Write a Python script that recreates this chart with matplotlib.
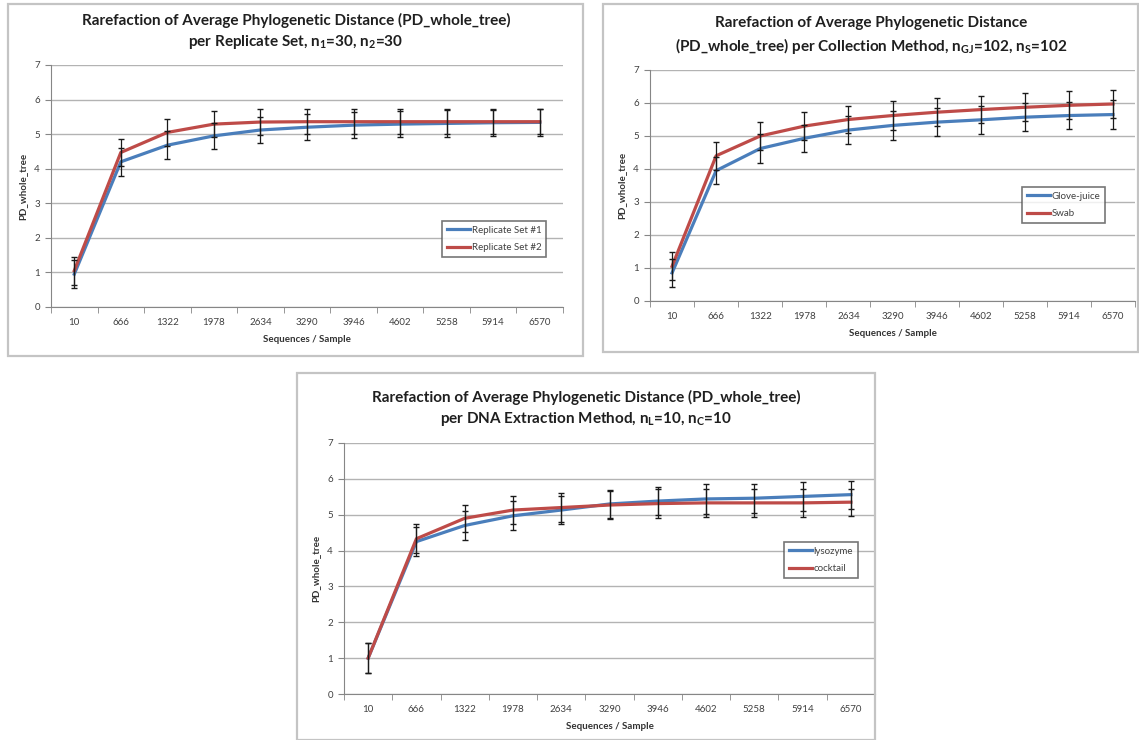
from __future__ import annotations

import matplotlib

matplotlib.use("Agg")
import matplotlib.pyplot as plt
from matplotlib.patches import Rectangle

plt.rcParams["font.family"] = ["Lato", "DejaVu Sans"]
plt.rcParams["mathtext.default"] = "regular"

SEQS = ["10", "666", "1322", "1978", "2634", "3290", "3946", "4602", "5258", "5914", "6570"]

# replicate sets
rep1_mean = [0.95, 4.20, 4.68, 4.95, 5.12, 5.20, 5.26, 5.29, 5.31, 5.33, 5.34]
rep1_err = [0.40, 0.40, 0.40, 0.38, 0.38, 0.38, 0.38, 0.38, 0.38, 0.38, 0.38]
rep2_mean = [1.05, 4.47, 5.05, 5.29, 5.35, 5.36, 5.36, 5.36, 5.36, 5.36, 5.36]
rep2_err = [0.40, 0.38, 0.40, 0.37, 0.38, 0.37, 0.37, 0.37, 0.37, 0.37, 0.37]

# collection method
glove_mean = [0.85, 3.95, 4.62, 4.93, 5.18, 5.32, 5.42, 5.49, 5.57, 5.62, 5.65]
glove_err = [0.42, 0.40, 0.44, 0.40, 0.43, 0.43, 0.42, 0.42, 0.42, 0.42, 0.43]
swab_mean = [1.05, 4.40, 5.00, 5.30, 5.50, 5.62, 5.72, 5.80, 5.87, 5.93, 5.97]
swab_err = [0.42, 0.42, 0.43, 0.43, 0.40, 0.43, 0.43, 0.42, 0.43, 0.42, 0.43]

# DNA extraction method
lyso_mean = [1.00, 4.25, 4.70, 4.97, 5.13, 5.30, 5.38, 5.44, 5.46, 5.51, 5.56]
lyso_err = [0.42, 0.40, 0.40, 0.40, 0.40, 0.40, 0.40, 0.41, 0.40, 0.41, 0.39]
cock_mean = [1.00, 4.33, 4.90, 5.13, 5.20, 5.27, 5.31, 5.33, 5.33, 5.33, 5.35]
cock_err = [0.42, 0.40, 0.38, 0.38, 0.40, 0.40, 0.40, 0.39, 0.39, 0.39, 0.38]

BLUE = "#4a7ebb"
RED = "#be4b48"
W, H = 1139, 740


def _frac(x0: float, y0: float, x1: float, y1: float) -> list[float]:
    return [x0 / W, (H - y1) / H, (x1 - x0) / W, (y1 - y0) / H]


def _panel_box(fig: plt.Figure, x0, y0, x1, y1) -> None:
    fig.patches.append(Rectangle((x0 / W, (H - y1) / H), (x1 - x0) / W, (y1 - y0) / H,
                                 transform=fig.transFigure, fill=False,
                                 edgecolor="#c4c4c4", linewidth=1.6))


def draw_panel(fig, rect, title, title_xy, series, legend_xy):
    ax = fig.add_axes(_frac(*rect))
    x = list(range(len(SEQS)))
    for mean, err, color, label in series:
        ax.plot(x, mean, color=color, lw=2.3, label=label, zorder=3)
        ax.errorbar(x, mean, yerr=err, fmt="none", ecolor="#1a1a1a", elinewidth=0.9,
                    capsize=2.5, capthick=1.0, zorder=4)
    ax.set_xlim(-0.5, len(SEQS) - 0.5)
    ax.set_ylim(0, 7)
    ax.set_yticks(range(8))
    ax.set_xticks(x, SEQS)
    ax.set_xticks([i - 0.5 for i in range(len(SEQS) + 1)], minor=True)
    ax.tick_params(axis="x", which="major", length=0, pad=8, labelsize=7, labelcolor="#404040")
    ax.tick_params(axis="x", which="minor", length=4, color="#868686", direction="out")
    ax.tick_params(axis="y", length=4, color="#868686", labelsize=7, labelcolor="#404040", pad=4)
    ax.grid(axis="y", color="#b3b3b3", lw=1.0, zorder=0)
    for side in ("top", "right"):
        ax.spines[side].set_visible(False)
    for side in ("left", "bottom"):
        ax.spines[side].set_color("#868686")
    ax.set_xlabel("Sequences / Sample", fontsize=7, fontweight="bold", color="#333333", labelpad=6)
    ax.set_ylabel("PD_whole_tree", fontsize=7, fontweight="bold", color="#333333", labelpad=5)
    fig.text(title_xy[0] / W, (H - title_xy[1]) / H, title, ha="center", va="center",
             fontsize=11, fontweight="bold", color="#1f1f1f", linespacing=1.37)
    leg = ax.legend(loc="upper left", bbox_to_anchor=(legend_xy[0] / W, (H - legend_xy[1]) / H),
                    bbox_transform=fig.transFigure, fontsize=7, fancybox=False, frameon=True,
                    handlelength=2.4, handletextpad=0.15, labelspacing=0.85, borderpad=0.5,
                    borderaxespad=0, labelcolor="#404040")
    leg.get_frame().set_edgecolor("#555555")
    leg.get_frame().set_linewidth(1.2)
    return ax


fig = plt.figure(figsize=(W / 100, H / 100), dpi=100)

_panel_box(fig, 8, 4, 583, 356)
_panel_box(fig, 603, 4, 1138, 352)
_panel_box(fig, 297, 373, 875, 740)

draw_panel(fig, (51, 65, 563, 307),
           "Rarefaction of Average Phylogenetic Distance (PD_whole_tree)\n"
           "per Replicate Set, n$_{1}$=30, n$_{2}$=30",
           (296, 32),
           [(rep1_mean, rep1_err, BLUE, "Replicate Set #1"),
            (rep2_mean, rep2_err, RED, "Replicate Set #2")],
           (442, 221))

draw_panel(fig, (650, 70, 1135, 301),
           "Rarefaction of Average Phylogenetic Distance\n"
           "(PD_whole_tree) per Collection Method, n$_{GJ}$=102, n$_{S}$=102",
           (871, 36),
           [(glove_mean, glove_err, BLUE, "Glove-juice"),
            (swab_mean, swab_err, RED, "Swab")],
           (1022, 187))

draw_panel(fig, (344, 443, 875, 694),
           "Rarefaction of Average Phylogenetic Distance (PD_whole_tree)\n"
           "per DNA Extraction Method, n$_{L}$=10, n$_{C}$=10",
           (586, 409),
           [(lyso_mean, lyso_err, BLUE, "lysozyme"),
            (cock_mean, cock_err, RED, "cocktail")],
           (784, 542))

fig.savefig("out.png", dpi=100)
